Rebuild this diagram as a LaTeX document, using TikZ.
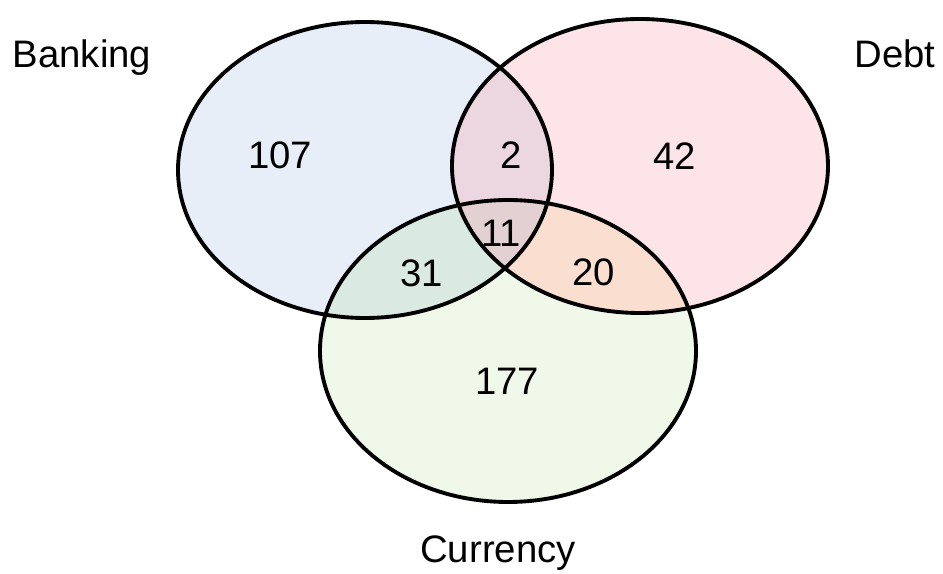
\documentclass[tikz,border=0pt]{standalone}
\usepackage{fontspec}
\setmainfont{Liberation Sans}
\definecolor{bankcol}{RGB}{232,238,248}
\definecolor{debtcol}{RGB}{253,228,232}
\definecolor{curcol}{RGB}{240,248,234}
\definecolor{bdcol}{RGB}{236,214,224}
\definecolor{bccol}{RGB}{218,234,226}
\definecolor{dccol}{RGB}{250,222,208}
\definecolor{allcol}{RGB}{226,208,210}
\def\bank{(3.65,4.04) ellipse (1.87 and 1.48)}
\def\debt{(6.40,4.08) ellipse (1.88 and 1.47)}
\def\curr{(5.08,2.23) ellipse (1.88 and 1.51)}
\begin{document}
\begin{tikzpicture}[font=\fontsize{10.9}{13}\selectfont,
  set/.style={line width=1.1pt},
  num/.style={inner sep=0pt}]
\useasboundingbox (0,0) rectangle (9.43,5.74);
\fill[bankcol] \bank;
\fill[debtcol] \debt;
\fill[curcol] \curr;
\begin{scope}
\clip \bank; \fill[bdcol] \debt;
\end{scope}
\begin{scope}
\clip \bank; \fill[bccol] \curr;
\end{scope}
\begin{scope}
\clip \debt; \fill[dccol] \curr;
\end{scope}
\begin{scope}
\clip \bank; \clip \debt; \fill[allcol] \curr;
\end{scope}
\draw[set] \bank;
\draw[set] \debt;
\draw[set] \curr;

\node[num,anchor=base west] (bname) at (0.12,5.06) {Banking};
\node[num,anchor=base east] (dname) at (9.36,5.06) {Debt};
\node[num,anchor=base] (cname) at (4.98,0.11) {Currency};

\node[num] (b) at (2.80,4.19) {107};
\node[num] (d) at (6.75,4.18) {42};
\node[num] (c) at (5.07,1.93) {177};
\node[num] (bd) at (5.11,4.19) {2};
\node[num] (bc) at (4.22,3.01) {31};
\node[num] (dc) at (5.94,3.02) {20};
\node[num] (bdc) at (5.01,3.41) {11};
\end{tikzpicture}
\end{document}
